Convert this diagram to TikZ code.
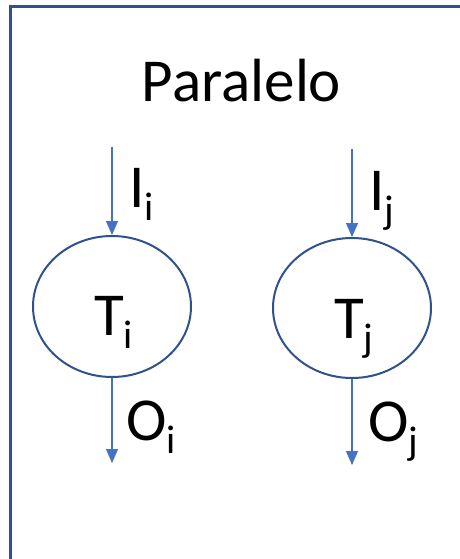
\documentclass[tikz,border=0pt]{standalone}
\usepackage{fontspec}
\setmainfont{Carlito}
\usetikzlibrary{shapes.geometric,arrows.meta}
\definecolor{darkblue}{HTML}{2F528F}
\definecolor{lightblue}{HTML}{4472C4}
\newcommand\lsub[1]{\raisebox{-13pt}{\fontsize{40}{40}\selectfont #1}}
\begin{document}
\begin{tikzpicture}[x=1pt,y=-1pt,
  frameline/.style={draw=darkblue,line width=3pt},
  task/.style={ellipse,draw=darkblue,line width=2pt,minimum width=158pt,minimum height=141pt,inner sep=0pt},
  flow/.style={draw=lightblue,line width=1.1pt,-{Triangle[width=12pt,length=14pt]}},
  lbl/.style={anchor=base west,inner sep=0pt,font=\fontsize{61}{70}\selectfont}]
\useasboundingbox (0,0) rectangle (459,559);
\coordinate (fb) at (10,565);
\coordinate (fc) at (10,7);
\coordinate (fr) at (465,7);
\draw[frameline] (fb) -- (fc) -- (fr);
\node[anchor=base,inner sep=0pt,font=\fontsize{61}{70}\selectfont] (title) at (241.5,102) {Paralelo};
\node[task] (Ti) at (112,306.5) {};
\node[task,minimum height=140pt] (Tj) at (352,308) {};
\coordinate (ini) at (112,147);
\coordinate (inj) at (352,149);
\coordinate (outi) at (112,463);
\coordinate (outj) at (352,465);
\draw[flow] (ini) -- (Ti.north);
\draw[flow] (inj) -- (Tj.north);
\draw[flow] (Ti.south) -- (outi);
\draw[flow] (Tj.south) -- (outj);
\node[lbl] (Ii) at (129,207) {I\lsub{i}};
\node[lbl] (Ij) at (369,210) {I\lsub{j}};
\node[lbl] (Tli) at (94,335) {T\lsub{i}};
\node[lbl] (Tlj) at (334,338) {T\lsub{j}};
\node[lbl] (Oi) at (126,440) {O\lsub{i}};
\node[lbl] (Oj) at (368,441) {O\lsub{j}};
\end{tikzpicture}
\end{document}
